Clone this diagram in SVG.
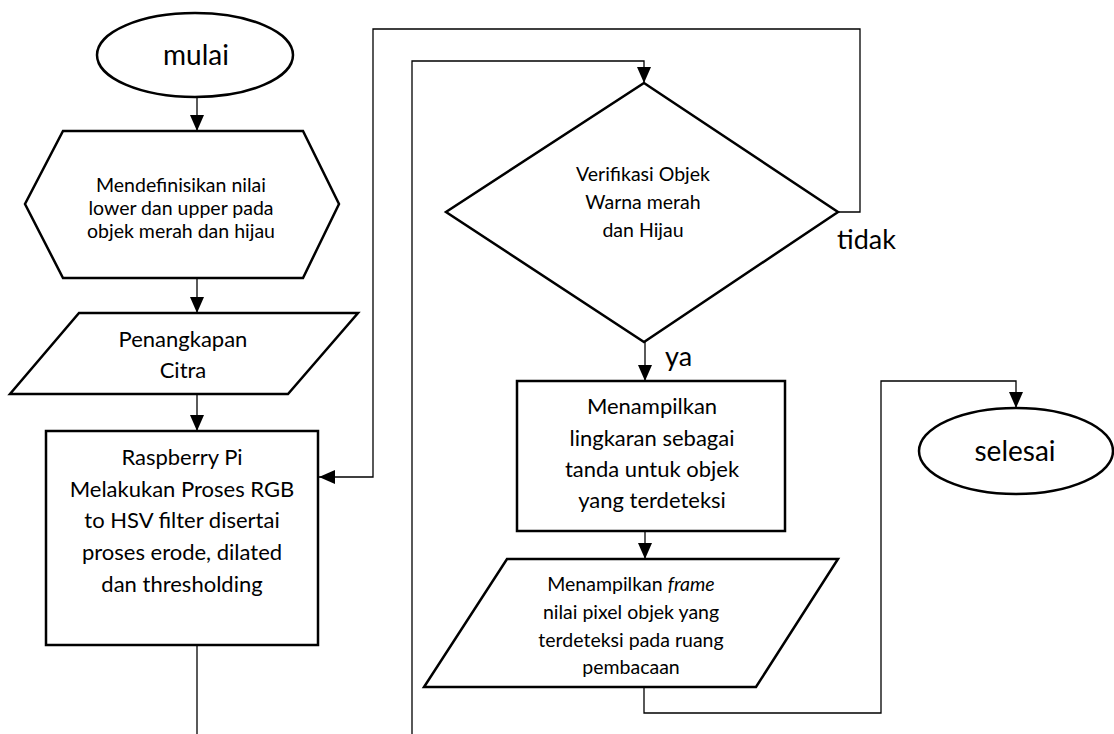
<svg xmlns="http://www.w3.org/2000/svg" width="1114" height="734" viewBox="0 0 1114 734">
  <style>
    .shape { fill: #ffffff; stroke: #000000; stroke-width: 2.5; stroke-linejoin: miter; }
    .conn { fill: none; stroke: #000000; stroke-width: 1.3; }
    .lbl { font-family: Lato, "Liberation Sans", sans-serif; fill: #000000; text-anchor: middle; }
    .small { font-size: 19.5px; }
    .mid { font-size: 22px; }
    .term { font-size: 28px; }
    .side { font-family: Lato, "Liberation Sans", sans-serif; font-size: 27px; fill: #000000; }
  </style>
  <defs>
    <marker id="arrow" markerUnits="userSpaceOnUse" markerWidth="16" markerHeight="16" viewBox="0 0 16 16" refX="16" refY="8" orient="auto">
      <path d="M0,1 L16,8 L0,15 Z" fill="#000000"/>
    </marker>
  </defs>
  <rect width="1114" height="734" fill="#ffffff"/>

  <g id="connectors">
    <line class="conn" x1="197" y1="97" x2="197" y2="131" marker-end="url(#arrow)"/>
    <line class="conn" x1="197" y1="278" x2="197" y2="313" marker-end="url(#arrow)"/>
    <line class="conn" x1="197" y1="394" x2="197" y2="431" marker-end="url(#arrow)"/>
    <line class="conn" x1="197" y1="645" x2="197" y2="734"/>
    <polyline class="conn" points="838,212 860,212 860,29 373,29 373,477 319,477" marker-end="url(#arrow)"/>
    <polyline class="conn" points="412,734 412,61 644,61 644,83" marker-end="url(#arrow)"/>
    <line class="conn" x1="645" y1="342" x2="645" y2="381" marker-end="url(#arrow)"/>
    <line class="conn" x1="645" y1="531" x2="645" y2="559" marker-end="url(#arrow)"/>
    <polyline class="conn" points="644,687 644,713 881,713 881,381 1016,381 1016,408" marker-end="url(#arrow)"/>
  </g>

  <g id="mulai">
    <ellipse class="shape" cx="195" cy="55" rx="98" ry="42"/>
    <text class="lbl term" x="196" y="65">mulai</text>
  </g>

  <g id="definisi">
    <polygon class="shape" points="63,131 303,131 339,204 303,278 63,278 25,204"/>
    <text class="lbl small" x="181" y="192">Mendefinisikan nilai</text>
    <text class="lbl small" x="181" y="215">lower dan upper pada</text>
    <text class="lbl small" x="181" y="238">objek merah dan hijau</text>
  </g>

  <g id="penangkapan">
    <polygon class="shape" points="79,313 358,313 288,394 10,394"/>
    <text class="lbl mid" x="183" y="347">Penangkapan</text>
    <text class="lbl mid" x="183" y="378">Citra</text>
  </g>

  <g id="proses">
    <rect class="shape" x="46" y="431" width="272" height="214"/>
    <text class="lbl mid" x="182" y="465">Raspberry Pi</text>
    <text class="lbl mid" x="182" y="497">Melakukan Proses RGB</text>
    <text class="lbl mid" x="182" y="528">to HSV filter disertai</text>
    <text class="lbl mid" x="182" y="560">proses erode, dilated</text>
    <text class="lbl mid" x="182" y="592">dan thresholding</text>
  </g>

  <g id="verifikasi">
    <polygon class="shape" points="644,83 838,212 644,342 446,212"/>
    <text class="lbl small" x="643" y="181">Verifikasi Objek</text>
    <text class="lbl small" x="643" y="209">Warna merah</text>
    <text class="lbl small" x="643" y="237">dan Hijau</text>
  </g>

  <g id="label-tidak">
    <text class="side" x="837" y="249">tidak</text>
  </g>
  <g id="label-ya">
    <text class="side" x="665" y="366">ya</text>
  </g>

  <g id="lingkaran">
    <rect class="shape" x="517" y="381" width="268" height="150"/>
    <text class="lbl mid" x="652" y="414">Menampilkan</text>
    <text class="lbl mid" x="652" y="446">lingkaran sebagai</text>
    <text class="lbl mid" x="652" y="477">tanda untuk objek</text>
    <text class="lbl mid" x="652" y="508">yang terdeteksi</text>
  </g>

  <g id="frame">
    <polygon class="shape" points="507,559 838,559 756,687 424,687"/>
    <text class="lbl small" x="631" y="591">Menampilkan <tspan font-style="italic">frame</tspan></text>
    <text class="lbl small" x="631" y="619">nilai pixel objek yang</text>
    <text class="lbl small" x="631" y="647">terdeteksi pada ruang</text>
    <text class="lbl small" x="631" y="674">pembacaan</text>
  </g>

  <g id="selesai">
    <ellipse class="shape" cx="1016" cy="451" rx="97" ry="43"/>
    <text class="lbl term" x="1015" y="461">selesai</text>
  </g>
</svg>
